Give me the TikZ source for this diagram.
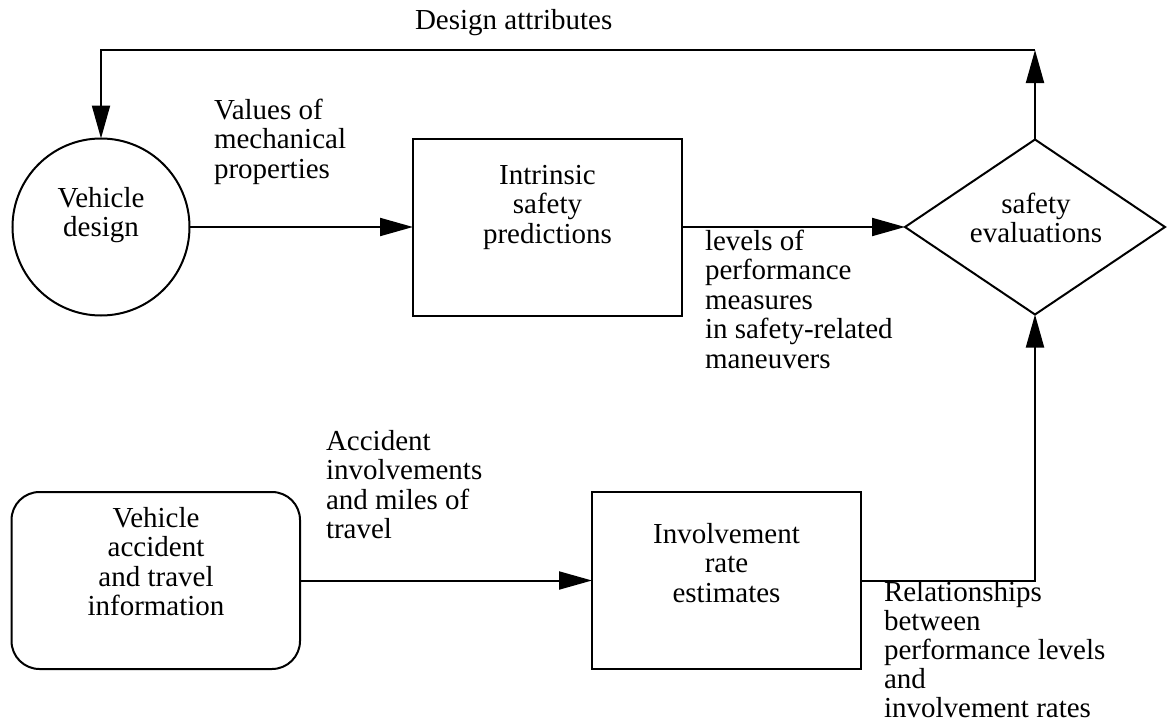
\documentclass[tikz,border=0pt]{standalone}
\usepackage{fontspec}
\setmainfont{Liberation Serif}
\usetikzlibrary{shapes.geometric,arrows.meta}
\begin{document}
\begin{tikzpicture}[x=1pt,y=-1pt,
  every node/.style={inner sep=0pt, outer sep=0pt},
  shapeline/.style={draw, line width=2pt},
  txt/.style={font=\fontsize{29}{29.5}\selectfont},
  lbl/.style={txt, align=left, anchor=north west},
  ctr/.style={txt, align=center, anchor=north},
  flow/.style={line width=2pt, -{Triangle[length=33pt,width=18pt]}},
  plain/.style={line width=2pt}]
\useasboundingbox (0,0) rectangle (1167,725);

% shapes
\node[shapeline, circle, minimum size=177pt] (vd) at (101,227) {};
\node[shapeline, rectangle, minimum width=269pt, minimum height=177pt] (isp) at (547.5,227) {};
\node[shapeline, diamond, minimum width=260pt, minimum height=175pt] (se) at (1035,227) {};
\node[shapeline, rectangle, rounded corners=28pt, minimum width=288.5pt, minimum height=177pt] (vat) at (155.75,580.5) {};
\node[shapeline, rectangle, minimum width=269pt, minimum height=177pt] (ire) at (726.5,580.5) {};

% texts inside shapes
\node[ctr] (vdt) at (101,187) {Vehicle\\design};
\node[ctr] (ispt) at (547.5,165) {Intrinsic\\safety\\predictions};
\node[ctr] (set) at (1036,193) {safety\\evaluations};
\node[ctr] (vatt) at (156,507) {Vehicle\\accident\\and travel\\information};
\node[ctr] (iret) at (726.5,523) {Involvement\\rate\\estimates};

% connector labels
\node[txt, anchor=base west] (da) at (415,30) {Design attributes};
\node[lbl] (vmp) at (214,99) {Values of\\mechanical\\properties};
\node[lbl] (lpm) at (705,230) {levels of\\performance\\measures\\in safety-related\\maneuvers};
\node[lbl] (aim) at (326,430) {Accident\\involvements\\and miles of\\travel};
\node[lbl, font=\fontsize{29}{29}\selectfont] (rel) at (884,581) {Relationships\\between\\performance levels\\and\\involvement rates};

% connectors
\coordinate (tr) at (se.north |- 0,50);
\coordinate (tl) at (vd.north |- 0,50);
\coordinate (br) at (se.south |- ire.east);
\draw[flow] (vd.east) -- (isp.west);
\draw[flow] (isp.east) -- (se.west);
\draw[flow] (se.north) -- (tr);
\draw[flow] (tr) -- (tl) -- (vd.north);
\draw[flow] (vat.east) -- (ire.west);
\draw[flow] (ire.east) -- (br) -- (se.south);
\end{tikzpicture}
\end{document}
